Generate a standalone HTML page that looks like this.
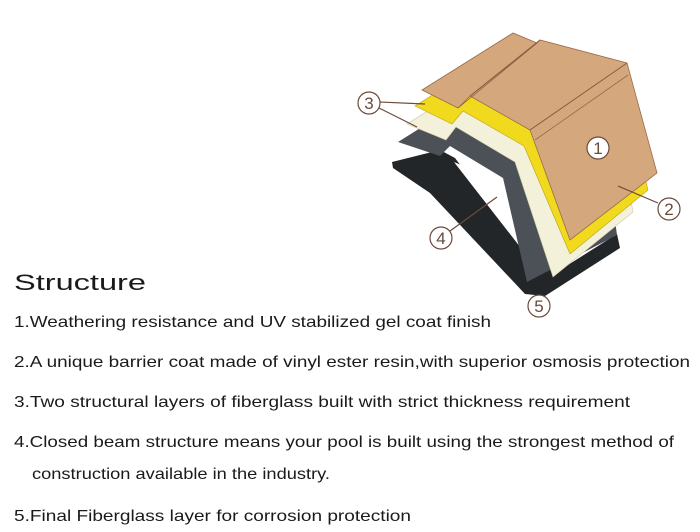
<!DOCTYPE html>
<html><head><meta charset="utf-8"><style>
html,body{margin:0;padding:0;background:#fff;}
svg{display:block}
text{font-family:"Liberation Sans",Arial,sans-serif;fill:#1a1a1a}
</style></head><body>
<svg width="700" height="532" viewBox="0 0 700 532" xmlns="http://www.w3.org/2000/svg">
<!-- black -->
<polygon points="392,162 440,150 455,158 524,250 560,270 617,234 620,248 545,296 525,294 430,193 393,168" fill="#232628"/>
<!-- hole -->
<polygon points="454,162 500,181 524,252" fill="#ffffff"/>
<!-- gray -->
<polygon points="398,142 440,156 450,146 503,178 527,282 617,235 600,111 520,90 519,91 489,85" fill="#4b5156"/>
<!-- cream -->
<polygon points="407,124 446,140 456,127 515,162 553,277 633,212 612,95 526,71 525,75 498,67" fill="#f4f1da" stroke="#cfc8a8" stroke-width="0.6"/>
<!-- yellow -->
<polygon points="415,106 452,124 463,111 524,146 570,254 648,190 621,79 533,55 531,59 506,49" fill="#f1da1e" stroke="#b8a415" stroke-width="0.6"/>
<!-- tan -->
<polygon points="422,90 458,108 470,96 530,130 570,240 657,173 627,63 540,40 537,43 513,33" fill="#d4a87c" stroke="#9a6a48" stroke-width="0.8"/>
<line x1="470" y1="96" x2="540" y2="40" stroke="#8a5a40" stroke-width="1"/>
<line x1="458" y1="108" x2="537" y2="43" stroke="#8a5a40" stroke-width="0.8"/>
<line x1="530" y1="130" x2="627" y2="63" stroke="#8a5a40" stroke-width="1"/>
<line x1="535" y1="140" x2="628" y2="75" stroke="#9a6a48" stroke-width="0.8"/>
<!-- leaders -->
<g stroke="#6b4a3a" stroke-width="1.2" fill="none">
<line x1="380" y1="102" x2="425" y2="104"/>
<line x1="379" y1="108" x2="417" y2="127"/>
<line x1="658" y1="203" x2="618" y2="186"/>
<line x1="450" y1="231" x2="497" y2="197"/>
</g>
<g fill="#fff" stroke="#6b4a3a" stroke-width="1.2">
<circle cx="369" cy="103" r="11"/>
<circle cx="598" cy="148" r="11"/>
<circle cx="669" cy="209" r="11"/>
<circle cx="441" cy="238" r="11"/>
<circle cx="539" cy="306" r="11"/>
</g>
<g font-size="17" text-anchor="middle">
<text x="369" y="109" style="fill:#6b4a3a">3</text>
<text x="598" y="154" style="fill:#6b4a3a">1</text>
<text x="669" y="215" style="fill:#6b4a3a">2</text>
<text x="441" y="244" style="fill:#6b4a3a">4</text>
<text x="539" y="312" style="fill:#6b4a3a">5</text>
</g>
<text x="14" y="290" font-size="22" textLength="132" lengthAdjust="spacingAndGlyphs">Structure</text>
<g font-size="16">
<text x="14" y="327" textLength="477" lengthAdjust="spacingAndGlyphs">1.Weathering resistance and UV stabilized gel coat finish</text>
<text x="14" y="367" textLength="676" lengthAdjust="spacingAndGlyphs">2.A unique barrier coat made of vinyl ester resin,with superior osmosis protection</text>
<text x="14" y="407" textLength="616" lengthAdjust="spacingAndGlyphs">3.Two structural layers of fiberglass built with strict thickness requirement</text>
<text x="14" y="447" textLength="660" lengthAdjust="spacingAndGlyphs">4.Closed beam structure means your pool is built using the strongest method of</text>
<text x="32" y="479" textLength="298" lengthAdjust="spacingAndGlyphs">construction available in the industry.</text>
<text x="14" y="521" textLength="397" lengthAdjust="spacingAndGlyphs">5.Final Fiberglass layer for corrosion protection</text>
</g>
</svg>
</body></html>
